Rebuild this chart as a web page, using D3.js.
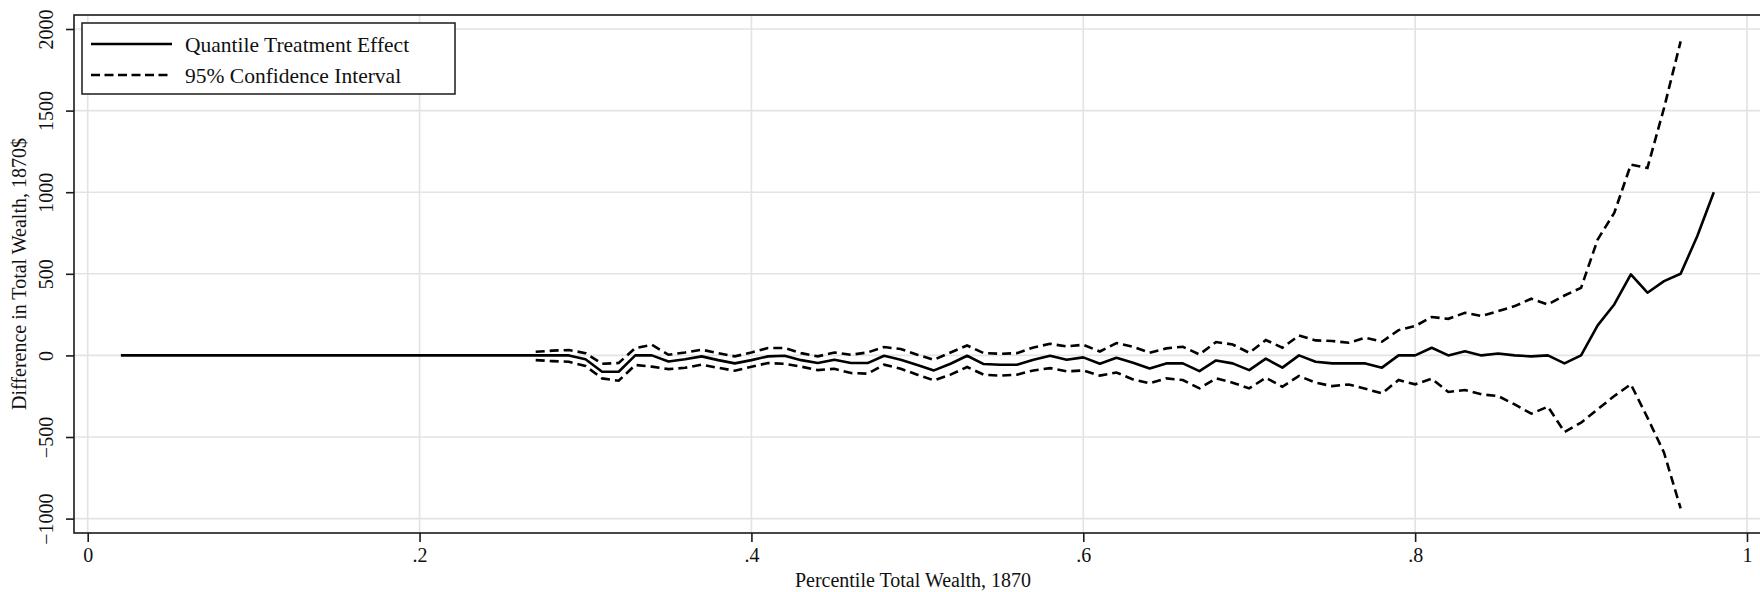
<!DOCTYPE html>
<html><head><meta charset="utf-8">
<script src="https://cdn.jsdelivr.net/npm/d3@7"></script>
<style>
html,body{margin:0;padding:0;background:#fff;}
svg{display:block;}
svg text{font-family:"Liberation Serif","Times New Roman",serif !important;}
</style></head>
<body>
<svg id="chart" width="1760" height="592"></svg>
<script>
const percentiles = [0.02,0.03,0.04,0.05,0.06,0.07,0.08,0.09,0.10,0.11,0.12,0.13,0.14,0.15,0.16,0.17,0.18,0.19,0.20,0.21,0.22,0.23,0.24,0.25,0.26,
0.27,0.28,0.29,0.30,0.31,0.32,0.33,0.34,0.35,0.36,0.37,0.38,0.39,0.40,0.41,0.42,0.43,0.44,0.45,0.46,0.47,0.48,0.49,0.50,
0.51,0.52,0.53,0.54,0.55,0.56,0.57,0.58,0.59,0.60,0.61,0.62,0.63,0.64,0.65,0.66,0.67,0.68,0.69,0.70,0.71,0.72,0.73,0.74,
0.75,0.76,0.77,0.78,0.79,0.80,0.81,0.82,0.83,0.84,0.85,0.86,0.87,0.88,0.89,0.90,0.91,0.92,0.93,0.94,0.95,0.96,0.97,0.98];

const qte = [0,0,0,0,0,0,0,0,0,0,0,0,0,0,0,0,0,0,0,0,0,0,0,0,0,
0,0,0,-24,-100,-100,0,0,-37,-24,-6,-29,-49,-29,-6,-2,-29,-47,-27,-47,-47,-2,-27,-59,
-92,-51,-2,-53,-57,-57,-27,-2,-27,-12,-51,-15,-45,-80,-49,-49,-96,-31,-49,-90,-20,-75,0,-39,
-49,-49,-49,-75,0,0,47,0,25,0,12,0,-6,0,-49,0,184,312,496,384,455,500,730,1000];

const ciUpper = [null,null,null,null,null,null,null,null,null,null,null,null,null,null,null,null,null,null,null,null,null,null,null,null,null,
22,29,33,14,-51,-47,45,65,4,18,35,14,-6,18,45,45,14,-6,18,4,18,51,39,4,
-27,18,61,14,10,14,49,71,55,65,24,76,53,16,43,53,6,82,67,16,94,47,122,92,
88,78,108,84,155,180,235,224,261,241,271,302,347,312,367,414,710,873,1169,1149,1516,1924,null,null];

const ciLower = [null,null,null,null,null,null,null,null,null,null,null,null,null,null,null,null,null,null,null,null,null,null,null,null,null,
-29,-35,-39,-65,-141,-155,-59,-69,-84,-76,-57,-76,-94,-69,-47,-51,-69,-90,-82,-108,-112,-57,-82,-118,
-153,-118,-71,-118,-124,-118,-92,-78,-98,-92,-124,-105,-147,-171,-141,-151,-202,-141,-167,-202,-137,-192,-126,-167,
-188,-178,-204,-233,-151,-177,-143,-224,-212,-239,-249,-300,-357,-314,-469,-412,-330,-249,-177,-381,-596,-938,null,null];

const xTicks = [0,0.2,0.4,0.6,0.8,1];
const xTickLabels = ["0",".2",".4",".6",".8","1"];
const yTicks = [-1000,-500,0,500,1000,1500,2000];

const legendLabels = ["Quantile Treatment Effect","95% Confidence Interval"];
const xTitle = "Percentile Total Wealth, 1870";
const yTitle = "Difference in Total Wealth, 1870$";

const svg = d3.select("#chart");
const frame = {left:74, top:15, right:1762, bottom:533};

const x = d3.scaleLinear().domain([0,1]).range([87.7,1747]);
const y = d3.scaleLinear().domain([-1000,2000]).range([518.6,29]);

// gridlines
const grid = svg.append("g");
grid.selectAll("line.h").data(yTicks).join("line")
  .attr("x1",frame.left).attr("x2",frame.right)
  .attr("y1",d=>y(d)).attr("y2",d=>y(d))
  .attr("stroke","#e3e3e3").attr("stroke-width",1.6);
grid.selectAll("line.v").data(xTicks).join("line")
  .attr("y1",frame.top).attr("y2",frame.bottom)
  .attr("x1",d=>x(d)).attr("x2",d=>x(d))
  .attr("stroke","#e3e3e3").attr("stroke-width",1.6);

// frame
svg.append("rect").attr("x",frame.left).attr("y",frame.top)
  .attr("width",frame.right-frame.left).attr("height",frame.bottom-frame.top)
  .attr("fill","none").attr("stroke","#1a1a1a").attr("stroke-width",1.6);

// axes
const yAxis = svg.append("g").attr("transform",`translate(${frame.left},0)`)
  .call(d3.axisLeft(y).tickValues(yTicks).tickSize(8).tickSizeOuter(0).tickFormat(d3.format("d")));
yAxis.attr("font-family",null).attr("font-size",null);
yAxis.select(".domain").remove();
yAxis.selectAll(".tick line").attr("stroke","#1a1a1a").attr("stroke-width",1.6);
yAxis.selectAll(".tick text")
  .attr("transform","rotate(-90)").attr("x",0).attr("y",-21).attr("dy",0)
  .attr("text-anchor","middle").style("font-size","20px").attr("fill","#111");

const xAxis = svg.append("g").attr("transform",`translate(0,${frame.bottom})`)
  .call(d3.axisBottom(x).tickValues(xTicks).tickSize(9).tickSizeOuter(0)
    .tickFormat((d,i)=>xTickLabels[i]));
xAxis.attr("font-family",null).attr("font-size",null);
xAxis.select(".domain").remove();
xAxis.selectAll(".tick line").attr("stroke","#1a1a1a").attr("stroke-width",1.6);
xAxis.selectAll(".tick text").attr("y",15).attr("dy","0.71em")
  .style("font-size","20px").attr("fill","#111");

// titles
svg.append("text").attr("x",(frame.left+1752)/2).attr("y",587)
  .attr("text-anchor","middle").style("font-size","20px").attr("fill","#111").text(xTitle);
svg.append("text").attr("transform",`translate(26,${(frame.top+frame.bottom)/2}) rotate(-90)`)
  .attr("text-anchor","middle").style("font-size","20px").attr("fill","#111").text(yTitle);

// lines
const data = percentiles.map((p,i)=>({p, q:qte[i], u:ciUpper[i], l:ciLower[i]}));
const mk = key => d3.line().defined(d=>d[key]!==null).x(d=>x(d.p)).y(d=>y(d[key]));

svg.append("path").datum(data).attr("d",mk("u"))
  .attr("fill","none").attr("stroke","#000").attr("stroke-width",2.6).attr("stroke-dasharray","9,5");
svg.append("path").datum(data).attr("d",mk("l"))
  .attr("fill","none").attr("stroke","#000").attr("stroke-width",2.6).attr("stroke-dasharray","9,5");
svg.append("path").datum(data).attr("d",mk("q"))
  .attr("fill","none").attr("stroke","#000").attr("stroke-width",2.6).attr("stroke-linejoin","round");

// legend
const lg = svg.append("g");
lg.append("rect").attr("x",82).attr("y",23).attr("width",373).attr("height",71)
  .attr("fill","#fff").attr("stroke","#1a1a1a").attr("stroke-width",1.5);
const rows = [{dash:null,label:legendLabels[0],cy:44},{dash:"9,4.5",label:legendLabels[1],cy:75}];
rows.forEach(r=>{
  const ln = lg.append("line").attr("x1",91).attr("x2",172).attr("y1",r.cy).attr("y2",r.cy)
    .attr("stroke","#000").attr("stroke-width",2.6);
  if(r.dash) ln.attr("stroke-dasharray",r.dash);
  lg.append("text").attr("x",185).attr("y",r.cy).attr("dy","0.35em")
    .style("font-size","21.5px").attr("fill","#111").text(r.label);
});
</script>
</body></html>
